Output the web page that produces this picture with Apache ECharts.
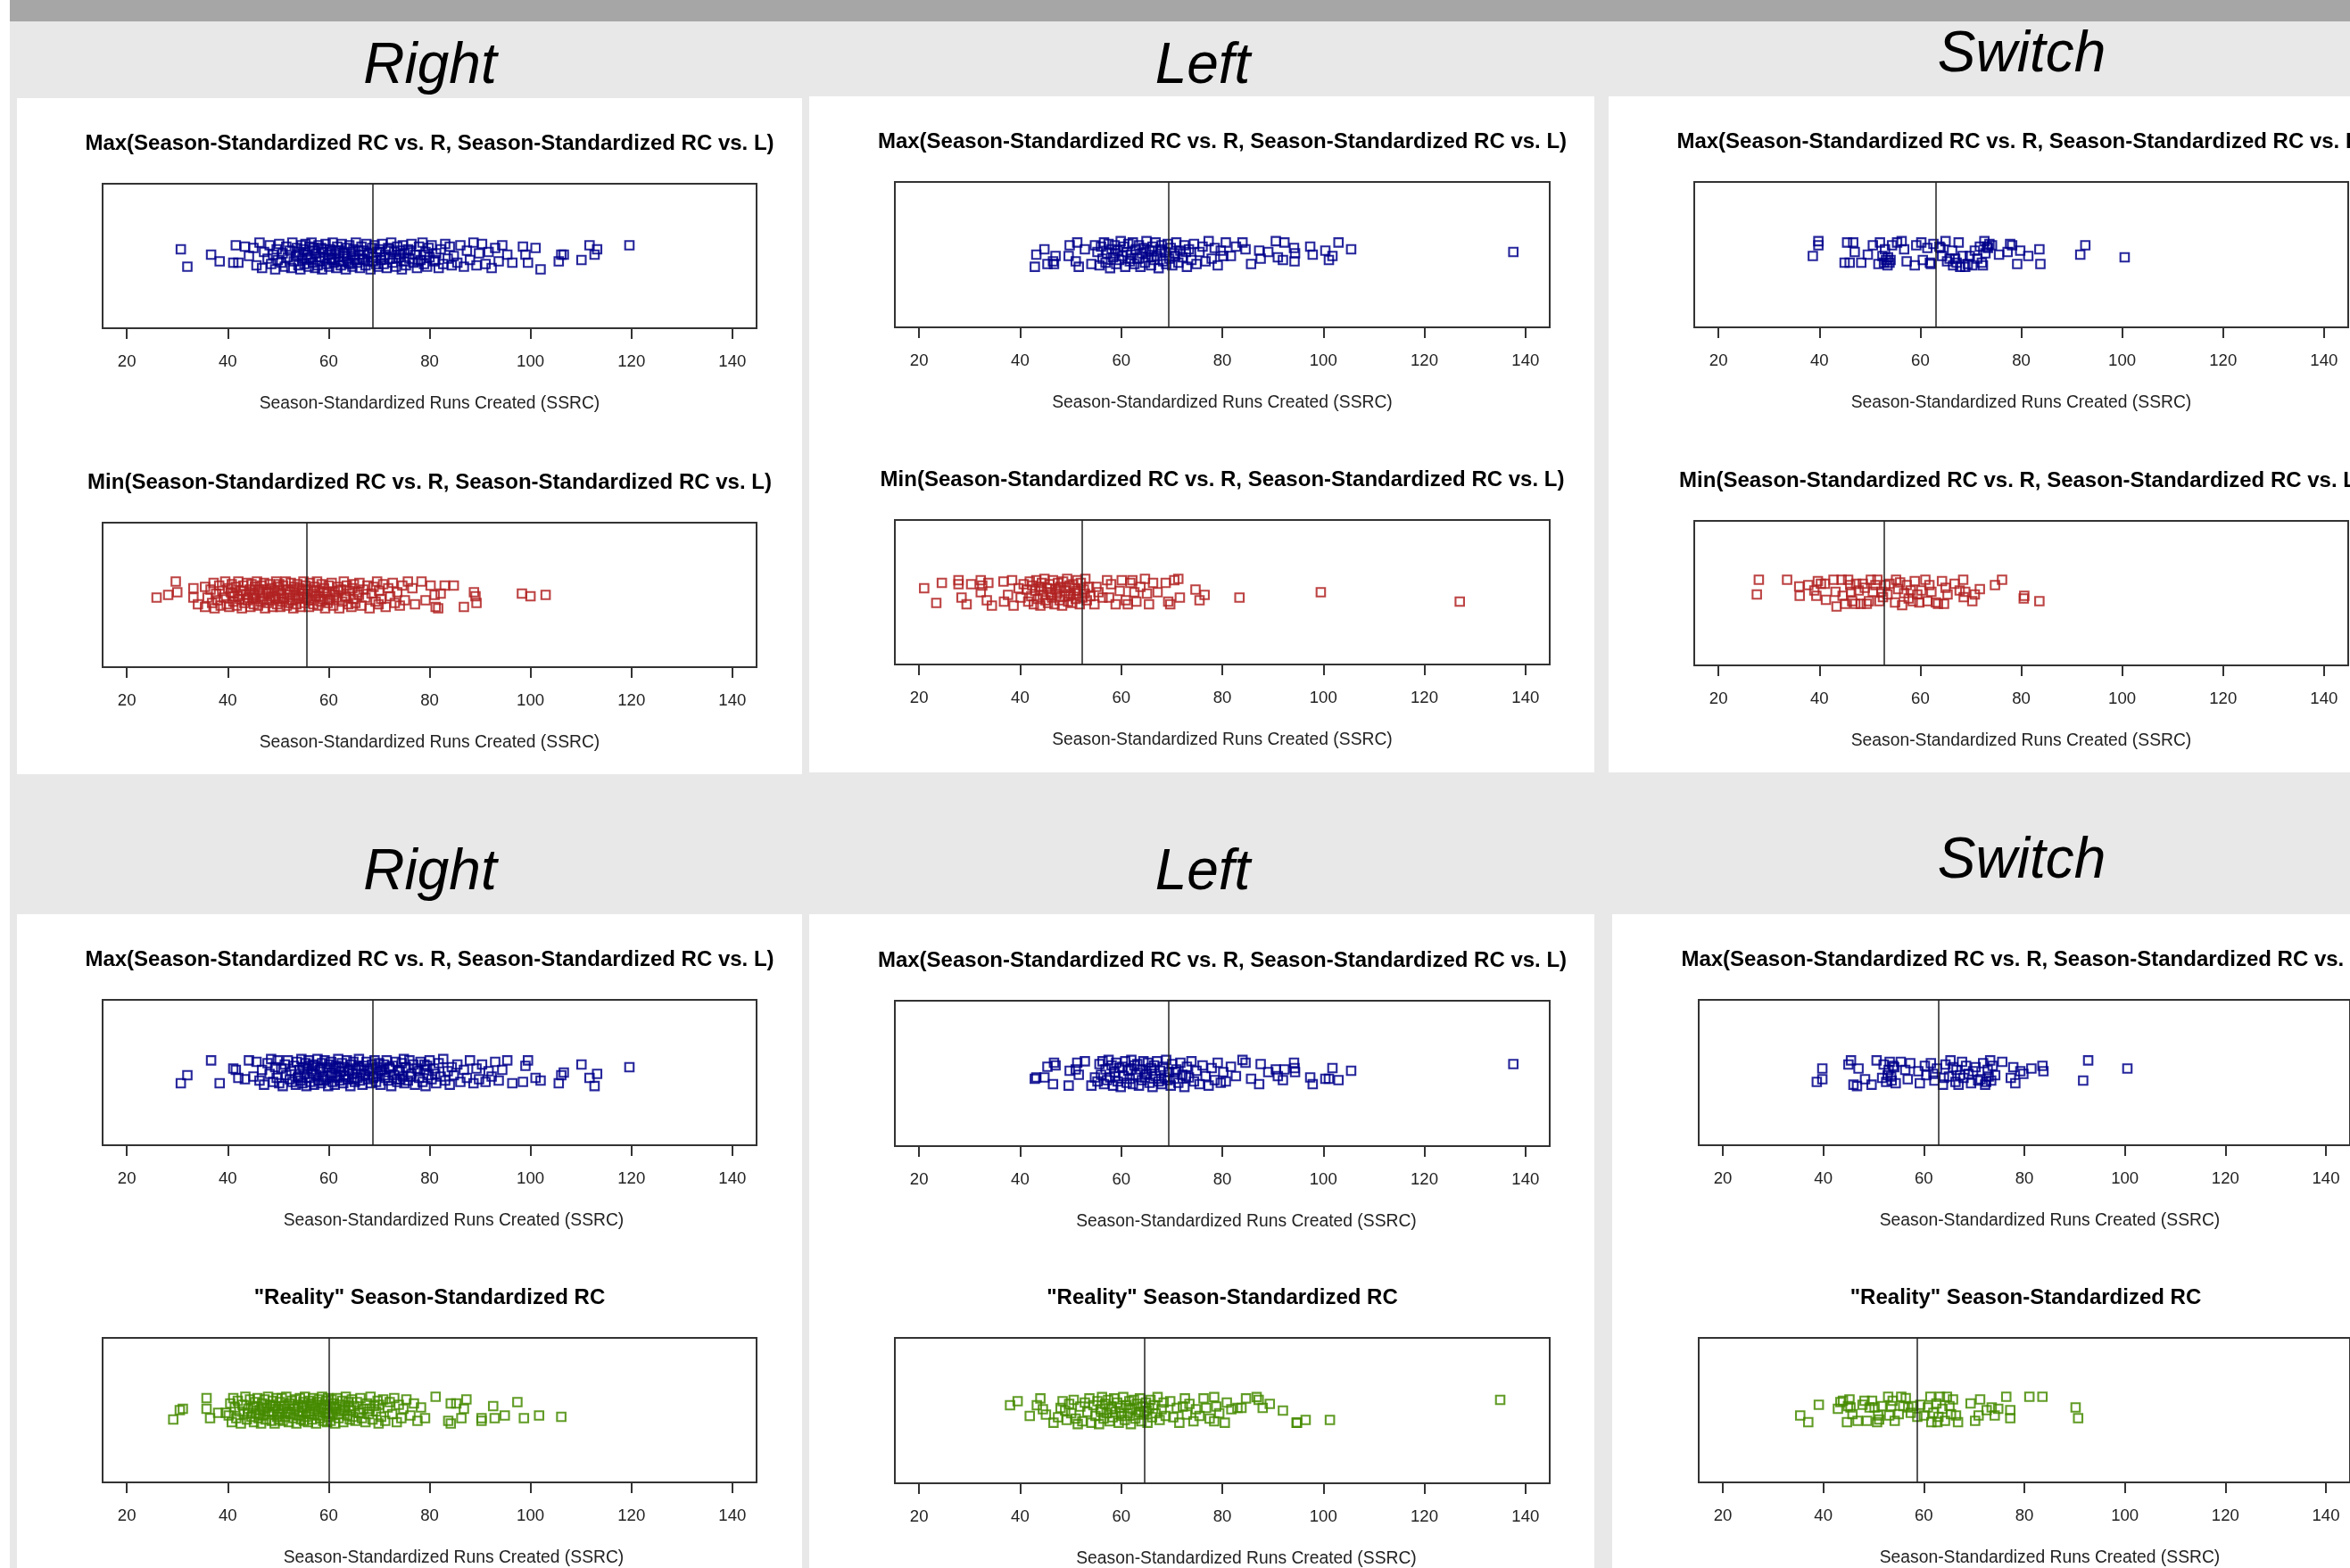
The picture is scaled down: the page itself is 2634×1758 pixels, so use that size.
<!DOCTYPE html>
<html><head><meta charset="utf-8">
<script src="https://cdn.jsdelivr.net/npm/echarts@6/dist/echarts.min.js"></script>
<style>html,body{margin:0;padding:0;background:#fff}#c{width:2634px;height:1758px}</style>
</head><body><div id="c"></div>
<script>
// ---------- texts & ticks ----------
const tickValues = [20, 40, 60, 80, 100, 120, 140];
const axisMin = 15.2, axisMax = 144.8;
const columnHeaders = ['Right', 'Left', 'Switch'];
const titleMax = 'Max(Season-Standardized RC vs. R, Season-Standardized RC vs. L)';
const titleMin = 'Min(Season-Standardized RC vs. R, Season-Standardized RC vs. L)';
const titleReality = '"Reality" Season-Standardized RC';
const axisTitle = 'Season-Standardized Runs Created (SSRC)';

// ---------- center (vertical) line values ----------
const centerRightMax = 68.8, centerRightMin = 55.7, centerRightReality = 60.1;
const centerLeftMax = 69.4, centerLeftMin = 52.3, centerLeftReality = 64.6;
const centerSwitchMax = 63.0, centerSwitchMin = 52.9, centerSwitchReality = 58.6;

// ---------- data: [SSRC value, jitter top row, jitter bottom row] (jitter in hundredths) ----------
const rightMax = [
[30.7,5,-8],[32.0,-8,-2],[36.7,1,9],[38.4,-4,-8],[41.1,-5,3],[41.6,8,2],[42.1,-5,-4],[43.4,7,-5],[44.2,0,9],
[45.1,6,-3],[45.7,-7,8],[46.3,10,-6],[46.8,-9,2],[47.2,3,-9],[47.9,-2,7],[48.3,8,-1],[48.6,-6,10],[49.0,1,-7],[49.4,-10,4],[49.7,5,-4],[49.9,-3,9],
[50.2,9,-8],[50.6,-5,3],[50.9,2,-10],[51.3,-8,6],[51.6,7,-2],[51.9,-1,9],[52.3,4,-5],[52.6,-9,1],[52.8,10,-7],[53.1,-4,5],[53.5,0,-9],[53.7,6,8],[54.0,-7,-3],[54.2,3,2],[54.4,-10,-6],[54.6,8,10],[54.8,-2,-8],[55.0,5,4],
[55.2,-6,-1],[55.4,9,7],[55.6,-3,-10],[55.8,1,3],[56.0,-8,9],[56.2,7,-4],[56.4,-1,-7],[56.6,10,1],[56.9,-5,6],[57.1,4,-9],[57.3,-9,5],[57.5,2,-2],[57.8,-7,10],[58.0,8,-6],[58.2,-4,2],[58.5,6,-8],[58.7,-10,7],[58.9,3,-3],[59.2,-2,9],[59.4,9,-5],[59.6,-6,4],[59.9,1,-10],
[60.1,-8,6],[60.3,5,-2],[60.5,-3,8],[60.8,10,-7],[61.0,-5,3],[61.2,2,-9],[61.5,-9,5],[61.7,7,-4],[61.9,-1,10],[62.2,4,-6],[62.4,-7,1],[62.6,9,7],[62.9,-4,-8],[63.1,0,4],[63.4,-10,-3],[63.6,6,9],[63.8,-2,-5],[64.1,8,2],[64.3,-6,-10],[64.5,3,6],[64.7,-8,-1],[64.9,5,8],
[65.2,-3,-7],[65.4,10,3],[65.7,-5,-4],[66.0,1,10],[66.2,-9,-6],[66.5,7,2],[66.7,-2,-9],[67.0,4,5],[67.3,-7,-2],[67.5,9,8],[67.8,-4,-5],[68.0,2,1],[68.3,-10,-8],[68.6,6,6],[68.9,-1,-3],[69.1,8,9],[69.4,-6,-7],[69.6,3,4],[69.8,-8,-1],[70.0,5,7],
[70.3,-3,-9],[70.6,9,2],[70.9,-6,6],[71.2,1,-4],[71.5,-9,9],[71.8,6,-6],[72.1,-2,3],[72.4,10,-10],[72.7,-5,5],[73.0,3,-2],[73.3,-8,8],[73.6,7,-7],[73.9,-1,1],[74.2,4,-5],[74.5,-10,7],[74.7,8,-3],[74.9,-4,10],[75.0,2,-8],
[75.3,-7,4],[75.7,5,-6],[76.0,-2,9],[76.4,9,-1],[76.8,-5,6],[77.1,1,-9],[77.5,-9,3],[77.9,7,-4],[78.2,-3,8],[78.6,10,-7],[78.9,-6,2],[79.2,3,-10],[79.5,-8,5],[79.8,6,-2],[80.0,-1,9],
[80.4,8,-5],[80.9,-4,3],[81.3,2,-8],[81.8,-9,7],[82.2,5,-3],[82.7,-6,10],[83.1,9,-6],[83.6,-2,1],[84.0,7,-9],[84.4,-7,4],[84.8,0,-2],
[85.5,-5,6],[86.1,8,-7],[86.8,-8,2],[87.4,4,-4],[88.0,-3,9],[88.7,10,-8],[89.3,-7,3],[89.8,2,-5],
[90.4,9,6],[91.1,-6,-7],[91.7,3,1],[92.3,-9,-3],[93.0,6,8],[93.7,-4,-6],[94.4,8,2],
[95.4,1,9],[96.4,-5,-8],[98.5,7,-7],[99.0,1,5],[99.5,-5,9],[101.0,6,-4],[102.0,-10,-6],[105.6,-4,-8],[106.1,1,-2],[106.6,1,0],[110.1,-3,6],[111.7,8,-4],[112.7,1,-10],[113.2,5,-1],[119.6,8,4],
[53.9,1,-4],[56.1,-2,5],[57.0,6,-1],[58.4,-1,3],[59.0,5,-6],[60.6,-2,0],[61.4,4,-3],[62.0,-4,4],[63.0,2,-2],[63.9,-5,1],[65.0,0,-5],[65.9,4,5],[66.9,-3,-1],[67.7,1,3],[68.8,-4,-4],[70.2,3,1],[71.0,-1,-2],[72.0,5,4],[73.4,-2,-5],[74.1,1,2],[76.2,4,-3],[77.7,-4,1],[79.0,1,6],[81.1,-3,-1]
];

// [SSRC value, jitter]
const rightMin = [
[25.9,-2],[28.2,0],[29.7,10],[30.0,2],[33.2,5],[33.2,-2],[34.1,-7],[35.5,6],[35.5,-9],[36.0,-2],
[36.6,4],[36.9,-6],[37.2,9],[37.4,-10],[37.7,1],[38.0,-4],[38.3,7],[38.6,-8],[38.9,3],[39.2,-2],[39.5,10],[39.8,-7],
[40.1,5],[40.3,-9],[40.6,2],[40.8,8],[41.1,-5],[41.3,-1],[41.6,6],[41.8,-8],[42.1,10],[42.3,-3],[42.6,3],[42.8,-10],[43.1,7],[43.3,-6],[43.6,0],[43.8,9],[44.0,-4],[44.3,4],[44.5,-9],[44.7,8],[44.9,-2],[45.0,1],
[45.2,-7],[45.4,6],[45.6,-3],[45.8,10],[46.0,-8],[46.3,2],[46.5,-5],[46.7,7],[46.9,-1],[47.2,9],[47.4,-10],[47.6,4],[47.8,-6],[48.1,1],[48.3,8],[48.5,-4],[48.7,5],[48.9,-9],[49.2,3],[49.4,-2],[49.6,10],[49.8,-7],[49.9,6],[50.0,-3],
[50.2,8],[50.4,-9],[50.6,1],[50.8,-5],[51.0,7],[51.2,-2],[51.5,10],[51.7,-8],[51.9,4],[52.1,-6],[52.3,2],[52.5,9],[52.8,-4],[53.0,-10],[53.2,6],[53.4,0],[53.6,-7],[53.8,8],[54.0,-3],[54.2,5],[54.4,-9],[54.6,3],[54.8,-1],[55.0,10],
[55.2,-6],[55.4,7],[55.6,-2],[55.9,4],[56.1,-9],[56.3,9],[56.5,-4],[56.8,1],[57.0,-7],[57.2,6],[57.5,-1],[57.7,10],[57.9,-8],[58.2,3],[58.4,-5],[58.6,8],[58.9,-3],[59.1,5],[59.3,-10],[59.6,2],[59.8,-6],[60.0,7],
[60.3,-4],[60.6,9],[60.9,-8],[61.2,2],[61.5,-2],[61.8,6],[62.1,-10],[62.4,4],[62.7,-5],[63.0,10],[63.3,-1],[63.6,7],[63.9,-7],[64.2,3],[64.5,-9],[64.7,5],[64.9,-3],[65.0,8],
[65.3,-6],[65.7,2],[66.1,9],[66.5,-8],[66.9,4],[67.3,-2],[67.7,7],[68.1,-10],[68.5,1],[68.9,6],[69.3,-5],[69.6,10],[69.9,-7],[70.0,3],
[70.4,-3],[70.8,8],[71.3,-9],[71.8,5],[72.2,-1],[72.7,9],[73.1,-6],[73.6,2],[74.1,-8],[74.6,7],[75.1,-4],[75.7,10],
[76.6,5],[77.1,-7],[78.4,10],[79.2,-4],[80.2,7],[81.0,0],[81.2,-9],[81.7,-10],[82.2,1],[83.0,7],[84.8,7],[86.8,-9],[88.8,2],[89.1,-1],[89.3,-6],[98.3,1],[100.0,-1],[103.0,0],
[41.0,1],[42.0,-1],[43.0,3],[44.1,-2],[45.3,0],[46.2,4],[47.1,-3],[48.0,2],[49.0,-1],[50.1,3],[51.1,-3],[52.0,0],[53.1,4],[54.1,-2],[55.1,1],[56.0,-4],[57.1,3],[58.0,-1],[59.0,2],[60.1,-3],[61.0,0],[62.0,3],[63.5,-2],[66.0,0]
];

const rightReality = [
[29.2,-7],[30.5,0],[31.1,1],[35.8,9],[35.8,1],[36.5,-6],[38.1,-2],[39.6,-2],[41.1,9],
[40.2,-4],[40.5,5],[40.8,-9],[41.4,2],[41.7,-6],[42.0,7],[42.3,-1],[42.6,-10],[42.9,4],[43.2,-3],[43.5,10],[43.8,-7],[44.1,1],[44.4,8],[44.7,-5],[45.0,3],
[45.2,-9],[45.4,6],[45.6,-2],[45.9,9],[46.1,-6],[46.3,0],[46.6,-10],[46.8,5],[47.0,-4],[47.3,8],[47.5,-7],[47.7,2],[48.0,10],[48.2,-3],[48.4,4],[48.7,-8],[48.9,7],[49.1,-1],[49.3,-10],[49.5,3],[49.7,9],[49.8,-5],[50.0,1],[50.1,-7],
[50.3,6],[50.5,-2],[50.7,9],[50.9,-8],[51.2,3],[51.4,-5],[51.6,10],[51.8,-1],[52.1,-9],[52.3,5],[52.5,-3],[52.7,7],[53.0,-6],[53.2,1],[53.4,8],[53.6,-10],[53.9,4],[54.1,-4],[54.3,9],[54.5,-7],[54.7,2],[54.9,-2],[55.0,6],[55.1,-8],
[55.3,10],[55.5,-5],[55.7,3],[55.9,-9],[56.1,7],[56.3,-1],[56.5,5],[56.7,-7],[56.9,9],[57.1,-3],[57.3,1],[57.5,-10],[57.7,6],[57.9,-4],[58.1,8],[58.3,-6],[58.5,2],[58.7,10],[58.9,-8],[59.1,4],[59.3,-2],[59.5,7],[59.7,-9],[59.8,0],[59.9,9],[60.0,-5],
[60.2,3],[60.4,-8],[60.6,8],[60.8,-3],[61.0,5],[61.3,-10],[61.5,1],[61.7,9],[62.0,-6],[62.2,4],[62.4,-1],[62.7,7],[62.9,-9],[63.2,2],[63.4,10],[63.7,-4],[63.9,6],[64.2,-7],[64.4,0],[64.6,8],[64.8,-5],[65.0,3],
[65.3,-8],[65.6,6],[65.9,-2],[66.3,9],[66.6,-6],[66.9,1],[67.3,-9],[67.6,5],[68.0,-3],[68.3,10],[68.7,-7],[69.0,3],[69.4,-1],[69.7,7],[69.9,-10],[70.0,4],
[70.4,-5],[70.8,8],[71.2,-8],[71.7,2],[72.1,6],[72.6,-3],[73.0,9],[73.5,-9],[73.9,4],[74.4,-6],[74.8,1],[75.4,8],
[76.2,-4],[76.9,5],[77.6,-8],[78.3,2],[79.1,-6],
[81.2,10],[83.7,-8],[84.2,5],[84.2,-10],[85.3,5],[86.3,-6],[86.8,1],[87.3,8],[90.3,-6],[90.3,-8],[92.6,3],[92.9,-6],[94.9,-4],[97.4,6],[98.7,-6],[101.7,-4],[106.1,-5],
[44.0,-2],[45.1,2],[46.2,-3],[47.1,1],[48.1,-1],[49.0,3],[50.2,-3],[51.0,1],[52.0,-2],[53.1,3],[54.0,-1],[55.2,2],[56.0,-3],[57.0,4],[58.0,-1],[59.0,1],[60.1,-2],[61.1,2],[62.1,-3],[63.0,0],[64.0,3],[66.1,-2],[68.1,1]
];

const leftMax = [
[42.9,-9,-4],[43.2,0,-3],[44.8,4,-3],[45.4,-7,5],[46.5,-5,-8],[46.7,-7,8],[47.0,-1,6],[49.6,-1,-9],[49.8,7,2],[51.0,-5,3],[51.3,9,8],[51.6,-9,-1],[52.8,4,9],[54.1,-7,-9],[54.8,7,-3],
[55.3,2,-6],[55.7,-8,7],[56.0,6,-1],[56.3,-3,9],[56.6,9,-8],[56.9,-6,3],[57.2,1,-5],[57.5,8,10],[57.8,-10,-3],[58.1,4,6],[58.4,-2,-9],[58.7,7,1],[59.0,-7,8],[59.3,3,-6],[59.6,-4,4],[59.9,10,-10],
[60.2,-1,5],[60.5,6,-2],[60.8,-9,9],[61.1,2,-7],[61.4,8,2],[61.7,-5,-4],[62.0,0,10],[62.3,9,-8],[62.6,-7,6],[62.9,4,-1],[63.2,-3,7],[63.5,7,-9],[63.8,-9,3],[64.1,1,-5],[64.4,5,9],[64.7,-6,-3],
[65.0,10,0],[65.3,-2,8],[65.6,3,-7],[65.9,-8,4],[66.2,6,-10],[66.5,-4,6],[66.8,9,-2],[67.1,-1,9],[67.4,-10,-6],[67.7,4,2],[68.0,7,-8],[68.3,-5,5],[68.6,2,-3],[68.9,-7,10],[69.2,8,-5],[69.5,-3,1],[69.8,5,-9],
[70.1,-8,7],[70.5,1,-4],[70.9,9,3],[71.3,-6,-7],[71.7,3,8],[72.1,-2,-1],[72.5,7,-10],[73.0,-9,5],[73.4,4,-3],[73.9,-4,9],[74.4,8,-6],[74.9,-7,2],[75.5,2,-8],[76.1,6,6],[76.7,-5,-2],[77.3,10,-9],[77.9,-3,4],[78.5,5,-5],[79.1,-8,8],[79.7,3,-7],[80.2,-1,1],
[80.7,9,-6],[81.7,-1,5],[82.7,6,-2],[84.0,9,10],[84.6,4,8],[85.7,-7,-4],[87.3,3,-8],[87.6,-3,7],[89.1,2,1],[90.6,10,3],[91.0,-2,-2],[92.0,-4,-5],[92.3,9,3],[94.2,5,8],[94.3,-5,4],[94.4,1,1],[97.4,6,-3],[97.9,0,-8],[100.4,3,-4],[101.1,-4,-4],[101.8,-1,4],[103.0,9,-5],[105.5,4,2],[137.6,2,7],
[58.8,1,-2],[61.9,-3,3],[64.9,2,-1],[66.0,-2,2],[67.9,3,-4],[70.7,-1,1],[72.8,2,-2]
];

const leftMin = [
[21.0,3],[23.4,-8],[24.5,7],[27.8,9],[27.8,6],[28.4,-4],[29.4,-9],[30.3,6],[32.2,9],[32.2,0],[32.5,5],[33.7,7],[33.4,-6],[34.4,-10],[36.7,8],[36.8,-7],[37.6,-2],[38.4,9],[38.7,-10],[39.7,3],[40.1,-4],[40.7,6],
[41.3,2],[41.6,-7],[41.9,8],[42.2,-3],[42.4,5],[42.7,-9],[43.0,1],[43.2,9],[43.5,-5],[43.8,4],[44.0,-10],[44.3,7],[44.5,-2],[44.8,10],[45.0,-6],[45.3,3],[45.5,-8],[45.8,6],[46.0,0],[46.3,-4],[46.5,9],[46.8,-9],[47.0,2],[47.3,-1],[47.5,7],[47.8,-6],[48.0,4],[48.3,-10],[48.5,8],[48.8,-3],[49.0,1],[49.3,10],[49.5,-7],[49.8,5],[50.0,-2],[50.3,-8],[50.5,6],[50.8,3],[51.0,-5],[51.3,9],[51.5,-1],[51.8,-9],[52.0,7],[52.3,-4],[52.6,2],[52.9,10],[53.2,-6],[53.6,4],[53.9,-3],
[54.7,-9],[55.1,4],[55.5,0],[56.3,-4],[57.2,9],[57.6,-4],[58.0,6],[58.9,-9],[59.7,1],[60.1,9],[60.9,-6],[61.3,-9],[61.8,7],[62.2,9],[62.6,0],[63.0,-7],[63.8,4],[64.7,10],[65.1,-1],[65.5,-9],[66.3,7],[67.2,0],[68.8,7],[69.3,-7],[69.7,-9],[70.5,9],[71.3,10],[71.6,-4],[74.7,2],[75.5,-6],[76.5,-2],[83.4,-4],[99.5,0],[127.0,-7],
[44.1,2],[46.1,-2],[47.7,3],[49.6,-3],[51.2,1],[52.8,-1]
];

const leftReality = [
[38.0,4],[39.5,7],[41.9,-4],[43.3,4],[44.0,9],[44.5,1],[45.1,-3],[46.6,-9],[48.4,7],[48.9,0],[49.7,5],[51.4,-10],
[47.5,-5],[48.0,2],[49.2,-7],[50.1,-2],[50.6,8],[51.0,-6],[51.9,3],[52.3,-8],[52.8,6],[53.3,-1],[53.7,9],[54.1,-9],[54.5,4],[54.9,-4],[55.3,7],[55.6,-10],[55.9,1],[56.2,10],[56.5,-6],[56.8,5],[57.1,-2],[57.4,8],[57.7,-8],[58.0,3],[58.3,-5],[58.6,9],[58.9,-1],[59.2,6],[59.5,-9],[59.8,2],[60.1,-4],[60.4,10],[60.7,-7],[61.0,4],[61.3,-2],[61.6,7],[61.9,-10],[62.2,1],[62.5,8],[62.8,-6],[63.1,5],[63.4,-3],[63.7,9],[64.0,-8],[64.3,3],[64.6,-1],[64.9,6],[65.2,-9],[65.5,2],[65.8,8],[66.1,-5],[66.4,4],[66.8,-2],[67.2,10],[67.6,-7],[68.0,1],[68.4,6],[68.8,-4],
[69.7,7],[70.3,-5],[71.0,2],[71.5,-9],[72.2,3],[72.6,9],[73.0,-3],[73.5,5],[74.3,-8],[74.8,1],[75.5,-4],[76.3,9],[76.8,2],[77.5,-6],[78.4,10],[78.8,3],[78.4,-8],[79.4,-2],[80.5,-9],[80.9,6],[81.8,1],[83.0,2],[83.8,2],[84.7,9],[86.8,10],[87.2,8],[88.0,2],[89.4,5],[92.0,0],[94.7,-9],[94.8,-9],[96.5,-7],[101.3,-7],[135.0,8],
[56.0,-1],[58.1,1],[60.0,-2],[61.8,2],[63.6,-1],[65.0,0]
];

const switchMax = [
[38.7,-1,-7],[39.8,10,3],[39.8,7,-5],[45.0,-6,6],[45.5,9,9],[46.0,-6,-9],[46.7,9,-10],[47.0,2,3],[48.3,-6,-5],[49.6,0,-9],[50.6,7,9],[51.7,-7,-4],[52.0,9,6],[52.5,-1,-7],[52.8,-6,-2],[53.0,4,2],[53.2,-4,8],[53.5,-8,-3],[53.6,-2,-6],[53.9,-6,5],[54.1,-4,4],[54.4,7,-8],
[55.4,9,8],[56.3,10,2],[56.8,4,-5],[57.3,-5,7],[58.9,-8,1],[59.2,7,-8],[60.2,9,5],[60.5,-4,-2],[61.4,5,7],[61.9,-6,-1],[62.1,-7,-6],[62.6,8,3],[63.8,6,-9],[64.0,5,-4],[64.3,-1,6],
[65.0,10,-3],[65.3,-5,9],[65.8,-3,4],[66.3,3,-7],[66.5,-8,2],[66.9,-3,-9],[67.2,-6,-2],[67.6,9,8],[67.9,-9,-4],[68.4,-1,5],[68.9,-9,-1],[69.4,-7,-8],[69.8,-1,1],
[70.3,-8,4],[70.8,3,-6],[71.3,-3,-5],[71.8,6,7],[72.2,-6,-9],[72.4,-8,-7],[72.7,10,2],[72.9,1,-3],[73.2,6,9],[73.4,5,-6],[73.7,8,5],[74.2,7,-2],
[75.6,0,8],[77.3,2,-4],[77.8,8,4],[78.2,7,-8],[79.2,-7,1],[79.8,3,-1],[81.4,-1,3],[83.6,4,5],[83.8,-7,1],[91.7,0,-6],[92.7,7,9],[100.5,-2,3]
];

const switchMin = [
[27.6,-1],[28.0,10],[33.6,10],[36.0,5],[36.1,-2],[37.8,6],[39.0,2],[39.4,-2],[39.7,9],[40.3,7],[41.1,7],[41.3,-5],[42.8,10],[43.2,1],[43.4,-10],[44.4,10],[44.6,-2],[45.1,-8],[45.7,10],[46.1,6],[46.3,1],[46.5,-6],[47.1,-8],[47.3,7],[47.8,2],[48.2,-8],[48.6,7],[49.0,4],[49.4,-8],[49.8,-6],
[50.2,10],[50.6,1],[51.1,6],[51.5,10],[51.9,-6],[52.3,1],[52.6,-3],[53.1,6],[53.5,-1],[53.9,7],[55.0,-7],[55.2,10],[55.6,3],[56.0,8],[56.4,-9],[56.8,0],[57.3,6],[57.7,-4],[58.1,2],[58.5,-6],[58.9,9],[59.4,-1],[59.8,-7],
[60.2,2],[61.0,10],[61.4,-6],[61.8,6],[62.2,1],[63.1,-7],[63.5,-8],[64.3,9],[64.7,-8],[65.0,4],[65.4,-1],[66.8,7],[67.8,2],[68.5,10],[68.6,-3],[68.9,1],[70.3,-6],[70.8,-1],[71.8,3],[74.8,6],[76.2,10],[80.5,-4],[80.6,-2],[83.6,-6]
];

const switchReality = [
[35.4,-4],[37.0,-9],[39.1,4],[42.9,1],[43.4,6],[43.9,7],[44.7,-9],[44.9,3],[45.2,8],[45.4,2],[45.8,-3],[46.8,-8],[47.8,4],[48.2,7],[48.7,-8],[49.2,2],[49.7,7],[50.2,2],[50.7,-9],[50.9,-4],[51.1,-7],[51.6,3],
[52.9,10],[53.1,-4],[53.5,3],[53.8,7],[54.2,-8],[55.0,-3],[55.5,10],[55.9,3],[56.4,9],[56.9,2],[57.4,-2],[57.9,3],[58.7,-5],[59.3,4],[60.0,-4],[60.8,2],[61.3,10],[61.5,-9],[61.9,-2],[62.5,5],[62.7,-9],[62.9,-5],[63.2,10],[63.7,1],[64.2,-8],[64.6,10],[65.1,3],[65.4,-3],[65.8,8],[66.4,-4],[66.8,-9],
[69.3,5],[70.2,-8],[70.9,-4],[71.2,8],[72.5,0],[73.5,2],[74.1,-4],[74.8,1],[76.4,10],[77.2,0],[77.2,-6],[81.0,10],[83.6,10],[90.2,2],[90.7,-6]
];

// ---------- styling ----------
const BLUE = 'rgba(0,0,139,0.85)', RED = 'rgba(178,34,34,0.85)', GREEN = 'rgba(69,139,0,0.85)';
const FONT = '"Liberation Sans", Arial, sans-serif';

const plots = [
 {data: rightMax.map(p => [p[0], p[1]]), color: BLUE, center: centerRightMax, title: titleMax, box: [115, 206, 733, 162], shift: 0},
 {data: rightMin, color: RED, center: centerRightMin, title: titleMin, box: [115, 586, 733, 162], shift: 0},
 {data: leftMax.map(p => [p[0], p[1]]), color: BLUE, center: centerLeftMax, title: titleMax, box: [1003, 204, 734, 163], shift: 0},
 {data: leftMin, color: RED, center: centerLeftMin, title: titleMin, box: [1003, 583, 734, 162], shift: 0},
 {data: switchMax.map(p => [p[0], p[1]]), color: BLUE, center: centerSwitchMax, title: titleMax, box: [1899, 204, 733, 163], shift: 0},
 {data: switchMin, color: RED, center: centerSwitchMin, title: titleMin, box: [1899, 584, 733, 162], shift: 0},
 {data: rightMax.map(p => [p[0], p[2]]), color: BLUE, center: centerRightMax, title: titleMax, box: [115, 1121, 733, 163], shift: 27},
 {data: rightReality, color: GREEN, center: centerRightReality, title: titleReality, box: [115, 1500, 733, 162], shift: 27},
 {data: leftMax.map(p => [p[0], p[2]]), color: BLUE, center: centerLeftMax, title: titleMax, box: [1003, 1122, 734, 163], shift: 27},
 {data: leftReality, color: GREEN, center: centerLeftReality, title: titleReality, box: [1003, 1500, 734, 163], shift: 27},
 {data: switchMax.map(p => [p[0], p[2]]), color: BLUE, center: centerSwitchMax, title: titleMax, box: [1904, 1121, 733, 163], shift: 27},
 {data: switchReality, color: GREEN, center: centerSwitchReality, title: titleReality, box: [1904, 1500, 733, 162], shift: 27}
];

const graphic = [
 {type: 'rect', z: -20, silent: true, shape: {x: 11, y: 0, width: 2623, height: 24}, style: {fill: '#a6a6a6'}},
 {type: 'rect', z: -20, silent: true, shape: {x: 11, y: 24, width: 2623, height: 1734}, style: {fill: '#e8e8e8'}},
 {type: 'rect', z: -10, silent: true, shape: {x: 19, y: 110, width: 880, height: 758}, style: {fill: '#fff'}},
 {type: 'rect', z: -10, silent: true, shape: {x: 907, y: 108, width: 880, height: 758}, style: {fill: '#fff'}},
 {type: 'rect', z: -10, silent: true, shape: {x: 1803, y: 108, width: 831, height: 758}, style: {fill: '#fff'}},
 {type: 'rect', z: -10, silent: true, shape: {x: 19, y: 1025, width: 880, height: 733}, style: {fill: '#fff'}},
 {type: 'rect', z: -10, silent: true, shape: {x: 907, y: 1025, width: 880, height: 733}, style: {fill: '#fff'}},
 {type: 'rect', z: -10, silent: true, shape: {x: 1807, y: 1025, width: 827, height: 733}, style: {fill: '#fff'}}
];
const headerPos = [[482, 75], [1348, 75], [2266, 62], [482, 979], [1348, 979], [2266, 966]];
headerPos.forEach((p, i) => {
  graphic.push({type: 'text', z: 10, silent: true, style: {text: columnHeaders[i % 3], x: p[0], y: p[1], textAlign: 'center', textVerticalAlign: 'middle', verticalAlign: 'middle', font: 'italic 64px ' + FONT, fill: '#000'}});
});

const grid = [], xAxis = [], yAxis = [], series = [];
plots.forEach((pl, i) => {
  const [l, t, w, h] = pl.box;
  grid.push({left: l, top: t, width: w, height: h, show: true, borderColor: '#333', borderWidth: 2, backgroundColor: 'rgba(0,0,0,0)', containLabel: false});
  xAxis.push({gridIndex: i, type: 'value', min: axisMin, max: axisMax,
    axisLine: {show: false, onZero: false},
    axisTick: {show: true, inside: false, length: 12, lineStyle: {color: '#333', width: 2}, customValues: tickValues},
    axisLabel: {show: true, customValues: tickValues, margin: 28, fontSize: 18.6, fontFamily: FONT, color: '#222'},
    splitLine: {show: false}});
  yAxis.push({gridIndex: i, type: 'value', min: -0.54, max: 0.54, show: false});
  series.push({type: 'scatter', xAxisIndex: i, yAxisIndex: i, silent: true, animation: false,
    data: pl.data.map(p => [p[0], p[1] / 100]),
    symbol: 'rect', symbolSize: 9.5,
    itemStyle: {color: 'rgba(0,0,0,0)', borderColor: pl.color, borderWidth: 2.1, opacity: 1},
    markLine: {silent: true, animation: false, symbol: ['none', 'none'], label: {show: false},
      lineStyle: {color: '#222', width: 1.5, type: 'solid'}, data: [{xAxis: pl.center}]}});
  graphic.push({type: 'text', z: 10, silent: true, style: {text: pl.title, x: l + w / 2, y: t - 45, textAlign: 'center', textVerticalAlign: 'middle', verticalAlign: 'middle', font: 'bold 24px ' + FONT, fill: '#000'}});
  graphic.push({type: 'text', z: 10, silent: true, style: {text: axisTitle, x: l + w / 2 + pl.shift, y: t + h + 85, textAlign: 'center', textVerticalAlign: 'middle', verticalAlign: 'middle', font: '19.3px ' + FONT, fill: '#222'}});
});

const chart = echarts.init(document.getElementById('c'), null, {renderer: 'canvas', width: 2634, height: 1758});
chart.setOption({backgroundColor: '#fff', animation: false, grid, xAxis, yAxis, series, graphic});
</script></body></html>
